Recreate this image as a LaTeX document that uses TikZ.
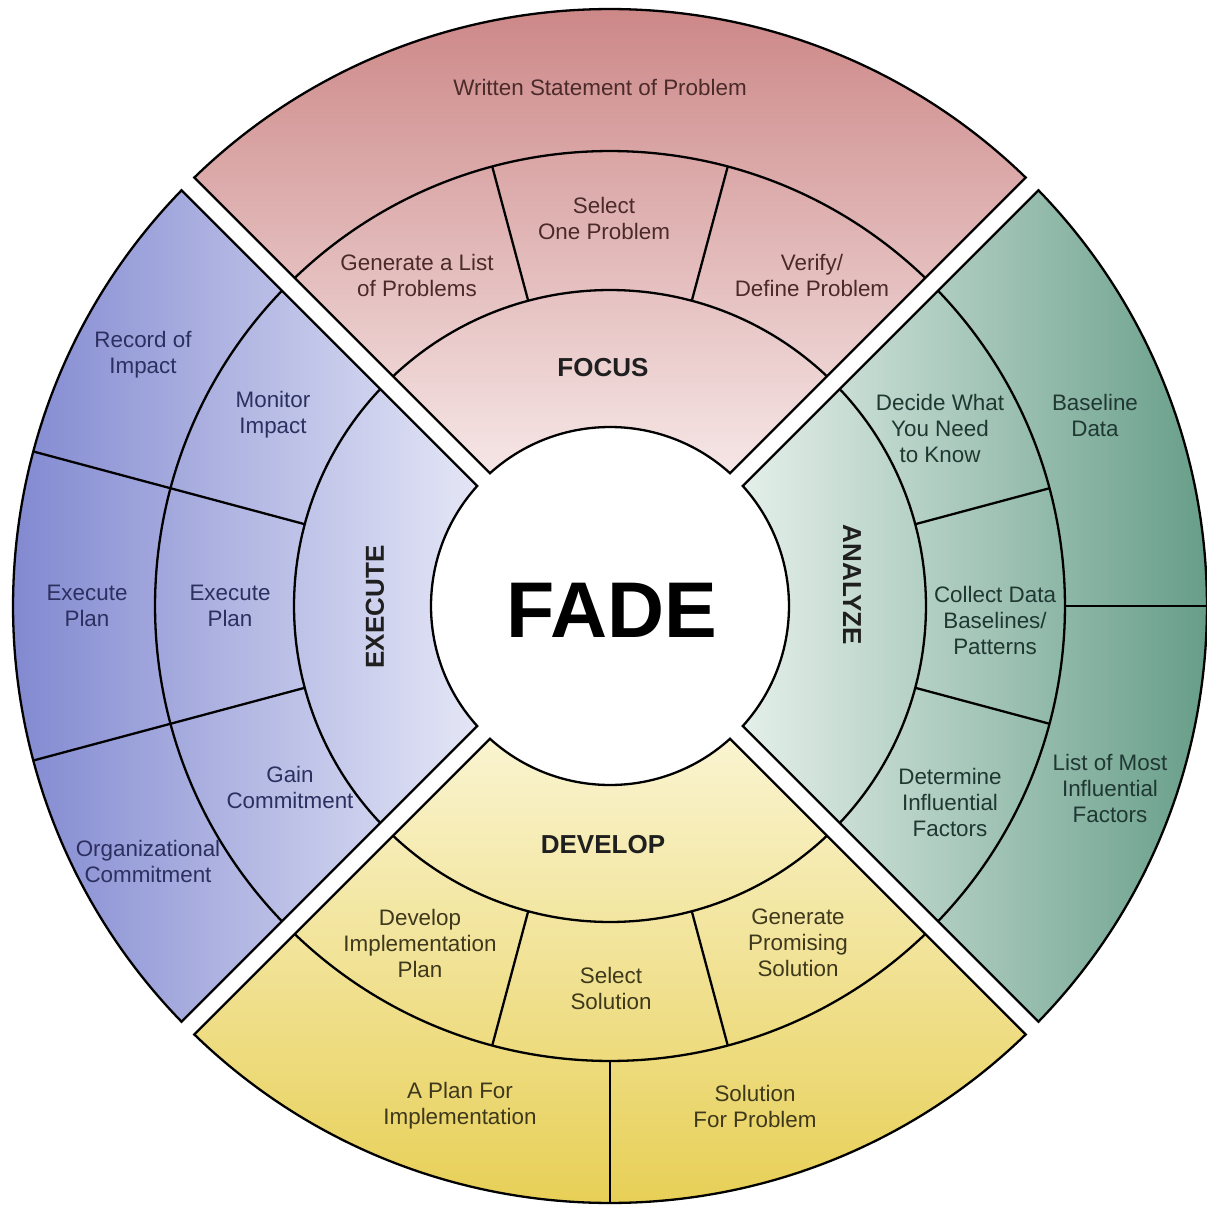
\documentclass[tikz,border=0pt]{standalone}
\usepackage{fontspec}
\setmainfont{Liberation Sans}
\definecolor{redD}{RGB}{200,124,124}
\definecolor{redL}{RGB}{246,230,230}
\definecolor{bluD}{RGB}{118,126,204}
\definecolor{bluL}{RGB}{228,230,246}
\definecolor{grnD}{RGB}{88,148,126}
\definecolor{grnL}{RGB}{228,239,234}
\definecolor{yelD}{RGB}{229,203,72}
\definecolor{yelL}{RGB}{250,244,208}
\definecolor{redT}{RGB}{75,42,42}
\definecolor{bluT}{RGB}{44,48,96}
\definecolor{grnT}{RGB}{32,56,50}
\definecolor{yelT}{RGB}{62,56,28}
\def\gp{9}
\def\rz{179}
\def\ra{316}
\def\rb{455}
\def\rc{597}
\newcommand\quadpath[2]{({#1+asin(\gp/\rc)}:\rc) arc[start angle={#1+asin(\gp/\rc)}, end angle={#2-asin(\gp/\rc)}, radius=\rc] -- ({#2-asin(\gp/\rz)}:\rz) arc[start angle={#2-asin(\gp/\rz)}, end angle={#1+asin(\gp/\rz)}, radius=\rz] -- cycle}
\newcommand\ringarc[3]{\draw[ln] ({#1+asin(\gp/#3)}:#3) arc[start angle={#1+asin(\gp/#3)}, end angle={#2-asin(\gp/#3)}, radius=#3];}
\tikzset{
  ln/.style={draw=black, line width=2.3pt},
  txt/.style={font=\fontsize{22.4}{26}\selectfont, align=center, inner sep=0pt},
  ttl/.style={font=\fontsize{26}{30}\selectfont\bfseries, inner sep=0pt, text=black!88},
}
\begin{document}
\begin{tikzpicture}[x=1pt,y=1pt]
\useasboundingbox (-610,-599) rectangle (597,606);
\fill[white] (-610,-599) rectangle (597,606);
% quadrants
\path[ln, top color=redD, bottom color=redL] \quadpath{45}{135};
\path[ln, left color=bluD, right color=bluL] \quadpath{135}{225};
\path[ln, left color=grnL, right color=grnD] \quadpath{-45}{45};
\path[ln, top color=yelL, bottom color=yelD] \quadpath{225}{315};
% ring arcs
\ringarc{45}{135}{\ra}
\ringarc{45}{135}{\rb}
\ringarc{135}{225}{\ra}
\ringarc{135}{225}{\rb}
\ringarc{-45}{45}{\ra}
\ringarc{-45}{45}{\rb}
\ringarc{225}{315}{\ra}
\ringarc{225}{315}{\rb}
% dividers
\draw[ln] (75:\ra) -- (75:\rb);
\draw[ln] (105:\ra) -- (105:\rb);
\draw[ln] (165:\ra) -- (165:\rc);
\draw[ln] (195:\ra) -- (195:\rc);
\draw[ln] (15:\ra) -- (15:\rb);
\draw[ln] (-15:\ra) -- (-15:\rb);
\draw[ln] (0:\rb) -- (0:\rc);
\draw[ln] (255:\ra) -- (255:\rb);
\draw[ln] (285:\ra) -- (285:\rb);
\draw[ln] (270:\rb) -- (270:\rc);
% centre
\node[font=\fontsize{79}{90}\selectfont\bfseries, inner sep=0pt] (fade) at (2,-4) {FADE};
% focus
\node[ttl] (focus) at (-7,238) {FOCUS};
\node[txt, text=redT] (wsp) at (-10,519) {Written Statement of Problem};
\node[txt, text=redT] (gen) at (-193,331) {Generate a List\\of Problems};
\node[txt, text=redT] (sel) at (-6,388) {Select\\One Problem};
\node[txt, text=redT] (ver) at (202,331) {Verify/\\Define Problem};
% execute
\node[ttl, rotate=90] (exe) at (-235,-1) {EXECUTE};
\node[txt, text=bluT] (rec) at (-467,251) {Record of\\Impact};
\node[txt, text=bluT] (mon) at (-337,191) {Monitor\\Impact};
\node[txt, text=bluT] (ep1) at (-523,0) {Execute\\Plan};
\node[txt, text=bluT] (ep2) at (-380,0) {Execute\\Plan};
\node[txt, text=bluT] (gain) at (-320,-181) {Gain\\Commitment};
\node[txt, text=bluT] (org) at (-462,-255) {Organizational\\Commitment};
% analyze
\node[ttl, rotate=-90] (ana) at (242,21) {ANALYZE};
\node[txt, text=grnT] (dec) at (330,178) {Decide What\\You Need\\to Know};
\node[txt, text=grnT] (base) at (485,191) {Baseline\\Data};
\node[txt, text=grnT] (col) at (385,-14) {Collect Data\\Baselines/\\Patterns};
\node[txt, text=grnT] (det) at (340,-196) {Determine\\Influential\\Factors};
\node[txt, text=grnT] (lst) at (500,-182) {List of Most\\Influential\\Factors};
% develop
\node[ttl] (dev) at (-7,-239) {DEVELOP};
\node[txt, text=yelT] (dip) at (-190,-337) {Develop\\Implementation\\Plan};
\node[txt, text=yelT] (ssol) at (1,-382) {Select\\Solution};
\node[txt, text=yelT] (gps) at (188,-337) {Generate\\Promising\\Solution};
\node[txt, text=yelT] (apf) at (-150,-500) {A Plan For\\Implementation};
\node[txt, text=yelT] (sfp) at (145,-500) {Solution\\For Problem};
\end{tikzpicture}
\end{document}
